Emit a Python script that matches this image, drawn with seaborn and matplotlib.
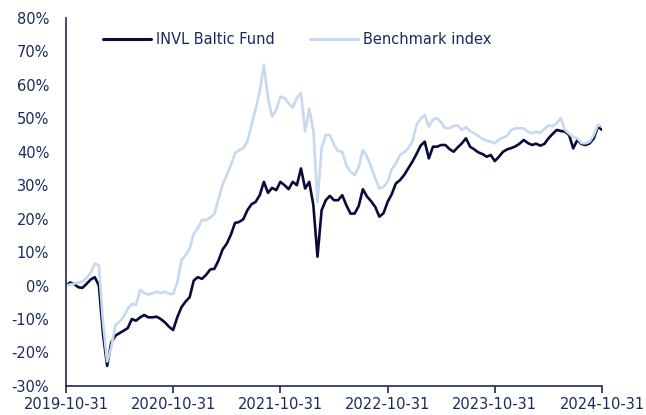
import numpy as np
import pandas as pd
import matplotlib
matplotlib.use('Agg')
import matplotlib.pyplot as plt
import matplotlib.dates as mdates
import seaborn as sns

# ==================== data (cumulative return, %) ====================
start_date = '2019-10-31'
end_date = '2024-10-31'
n_points = 131

fund = [0.0, 0.9, 0.5, -0.5, -0.7, 0.5, 1.8, 2.5, 0.0, -14.5,
        -24.0, -17.0, -15.0, -14.2, -13.5, -12.7, -10.0, -10.5, -9.5, -8.8,
        -9.5, -9.5, -9.3, -10.0, -11.0, -12.3, -13.3, -9.5, -6.5, -4.8,
        -3.5, 1.5, 2.5, 2.0, 3.2, 4.8, 5.0, 7.5, 10.8, 12.5,
        15.2, 18.7, 19.0, 19.8, 22.5, 24.3, 25.0, 27.0, 31.0, 27.7,
        29.2, 28.5, 31.0, 30.0, 28.8, 31.0, 30.0, 35.0, 29.0, 31.0,
        24.0, 8.6, 22.5, 25.5, 26.8, 25.5, 25.5, 27.0, 24.0, 21.5,
        21.5, 23.8, 28.8, 26.6, 25.2, 23.5, 20.6, 21.6, 25.0, 27.3,
        30.5, 31.5, 33.0, 35.0, 37.0, 39.3, 41.8, 43.0, 38.0, 41.5,
        41.5, 42.0, 42.0, 40.8, 40.0, 41.3, 42.5, 44.0, 41.5, 40.7,
        39.8, 39.3, 38.5, 39.0, 37.2, 38.5, 40.0, 40.7, 41.1, 41.6,
        42.4, 43.5, 42.6, 42.0, 42.4, 41.8, 42.3, 44.0, 45.3, 46.5,
        46.2, 46.0, 45.0, 41.0, 43.5, 42.3, 42.0, 42.5, 44.0, 47.5,
        46.5]

benchmark = [0.0, 0.3, 0.6, 0.8, 1.2, 2.3, 3.8, 6.6, 6.0, -11.0,
             -22.7, -18.5, -11.8, -10.8, -9.3, -7.0, -5.5, -5.8, -1.3, -2.2,
             -2.7, -2.3, -1.8, -2.3, -1.8, -2.5, -2.5, 0.8, 7.5, 9.1,
             11.0, 15.5, 17.1, 19.6, 19.6, 20.3, 21.4, 25.8, 30.2, 33.0,
             36.0, 39.5, 40.5, 41.0, 43.0, 48.0, 52.8, 58.0, 66.0, 56.0,
             50.5, 52.5, 56.5, 56.0, 54.5, 53.2, 56.0, 57.5, 46.0, 52.8,
             46.5, 25.0, 41.0, 45.0, 45.0, 42.0, 40.2, 40.0, 36.0, 34.0,
             33.0, 35.5, 40.5, 38.5, 35.5, 32.0, 29.0, 29.5, 31.0, 34.8,
             36.5, 39.0, 39.8, 41.0, 43.0, 48.0, 49.8, 51.0, 47.5, 49.7,
             50.0, 48.7, 47.0, 47.0, 47.7, 47.8, 46.5, 47.3, 46.2, 45.5,
             44.7, 43.8, 43.3, 43.0, 42.5, 43.7, 44.2, 44.8, 46.5, 47.0,
             47.0, 47.0, 46.0, 45.5, 46.0, 45.6, 46.8, 47.8, 47.6, 48.5,
             50.0, 46.5, 45.4, 44.3, 44.0, 42.6, 42.5, 43.0, 45.0, 48.0,
             47.5]

series_names = ['INVL Baltic Fund', 'Benchmark index']
tick_dates = ['2019-10-31', '2020-10-31', '2021-10-31',
              '2022-10-31', '2023-10-31', '2024-10-31']
y_ticks = list(range(-30, 81, 10))

# ==================== style ====================
sns.set_style('white')
plt.rcParams['font.family'] = ['DejaVu Sans']
TEXT = '#1b2a5e'
COLORS = {'INVL Baltic Fund': '#0b0b3b', 'Benchmark index': '#c6d9f1'}

dates = pd.date_range(start_date, end_date, periods=n_points)
df = pd.DataFrame({'date': dates, series_names[0]: fund, series_names[1]: benchmark})
long_df = df.melt(id_vars='date', var_name='series', value_name='ret')

fig = plt.figure(figsize=(6.46, 4.15), dpi=100)
ax = fig.add_axes([0.102, 0.070, 0.830, 0.887])

sns.lineplot(data=long_df, x='date', y='ret', hue='series',
             hue_order=series_names, palette=COLORS, linewidth=1.9, ax=ax)

ax.set_xlim(pd.Timestamp(start_date), pd.Timestamp(end_date))
ax.set_ylim(-30, 80)
ax.set_yticks(y_ticks)
ax.yaxis.set_major_formatter(plt.FuncFormatter(lambda v, _: f'{v:.0f}%'))
ax.set_xticks(pd.to_datetime(tick_dates))
ax.xaxis.set_major_formatter(mdates.DateFormatter('%Y-%m-%d'))
ax.set_xlabel('')
ax.set_ylabel('')

for side in ['top', 'right']:
    ax.spines[side].set_visible(False)
for side in ['left', 'bottom']:
    ax.spines[side].set_color(TEXT)
    ax.spines[side].set_linewidth(1.2)

ax.tick_params(axis='x', length=5, width=1.2, color=TEXT, direction='out',
               labelsize=10.5, labelcolor=TEXT, pad=3, bottom=True)
ax.tick_params(axis='y', length=0, labelsize=10.5, labelcolor=TEXT, pad=12)

leg = ax.legend(loc='center left', bbox_to_anchor=(0.069, 0.94), ncol=2,
                frameon=False, fontsize=10.5, handlelength=3.3,
                handletextpad=0.35, columnspacing=2.4,
                borderaxespad=0, borderpad=0)
for t in leg.get_texts():
    t.set_color(TEXT)
for h in leg.get_lines():
    h.set_linewidth(2.2)

fig.savefig('out.png', dpi=100)
